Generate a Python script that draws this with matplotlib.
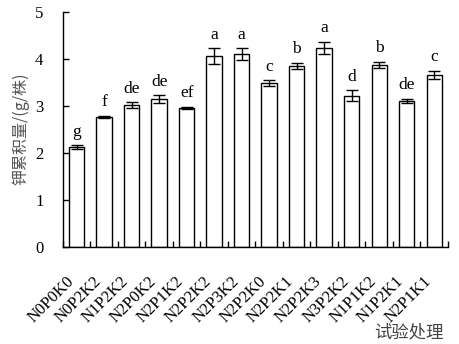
import matplotlib
matplotlib.use("Agg")
import matplotlib.pyplot as plt
import numpy as np

categories = ["N0P0K0", "N0P2K2", "N1P2K2", "N2P0K2", "N2P1K2", "N2P2K2", "N2P3K2",
              "N2P2K0", "N2P2K1", "N2P2K3", "N3P2K2", "N1P1K2", "N1P2K1", "N2P1K1"]
values = [2.12, 2.76, 3.01, 3.14, 2.95, 4.05, 4.10, 3.48, 3.85, 4.23, 3.21, 3.87, 3.10, 3.65]
errors = [0.04, 0.03, 0.06, 0.08, 0.03, 0.17, 0.12, 0.06, 0.06, 0.13, 0.12, 0.07, 0.05, 0.09]
letters = ["g", "f", "de", "de", "ef", "a", "a", "c", "b", "a", "d", "b", "de", "c"]
yticks = [0, 1, 2, 3, 4, 5]

serif = "Liberation Serif"
cjk = ["Noto Sans CJK SC", "DejaVu Sans"]

fig = plt.figure(figsize=(4.59, 3.44), dpi=100)
ax = fig.add_axes([0.137, 0.283, 0.839, 0.683])

x = np.arange(len(categories))
ax.bar(x, values, width=0.56, color="white", edgecolor="black", linewidth=1.0,
       yerr=errors, capsize=4, error_kw=dict(elinewidth=1.0, capthick=1.0, ecolor="black"))

for xi, v, e, l in zip(x, values, errors, letters):
    ax.text(xi, v + e + 0.12, l, ha="center", va="bottom", fontsize=12.5, family=serif)

ax.set_xlim(-0.5, len(categories) - 0.5)
ax.set_ylim(0, 5)
ax.set_yticks(yticks)
ax.set_yticklabels([str(t) for t in yticks], fontsize=12, family=serif)

# category boundary ticks
ax.set_xticks(np.arange(len(categories) + 1) - 0.5)
ax.set_xticklabels([])
ax.tick_params(axis="x", direction="in", length=4, width=1.0)
ax.tick_params(axis="y", direction="in", length=4, width=1.0, pad=14)

for xi, c in zip(x, categories):
    ax.text(xi - 0.4, -0.57, c, rotation=45, ha="right", va="top",
            rotation_mode="anchor", fontsize=12, family=serif)

ax.spines["top"].set_visible(False)
ax.spines["right"].set_visible(False)
ax.spines["left"].set_linewidth(1.0)
ax.spines["bottom"].set_linewidth(1.0)

ax.set_ylabel("钾累积量/(g/株)", family=cjk, fontsize=11.5, color="#555555", labelpad=4)
fig.text(0.967, 0.008, "试验处理", ha="right", va="bottom", family=cjk, fontsize=12.5, color="#444444")

fig.savefig("out.png", dpi=100)
